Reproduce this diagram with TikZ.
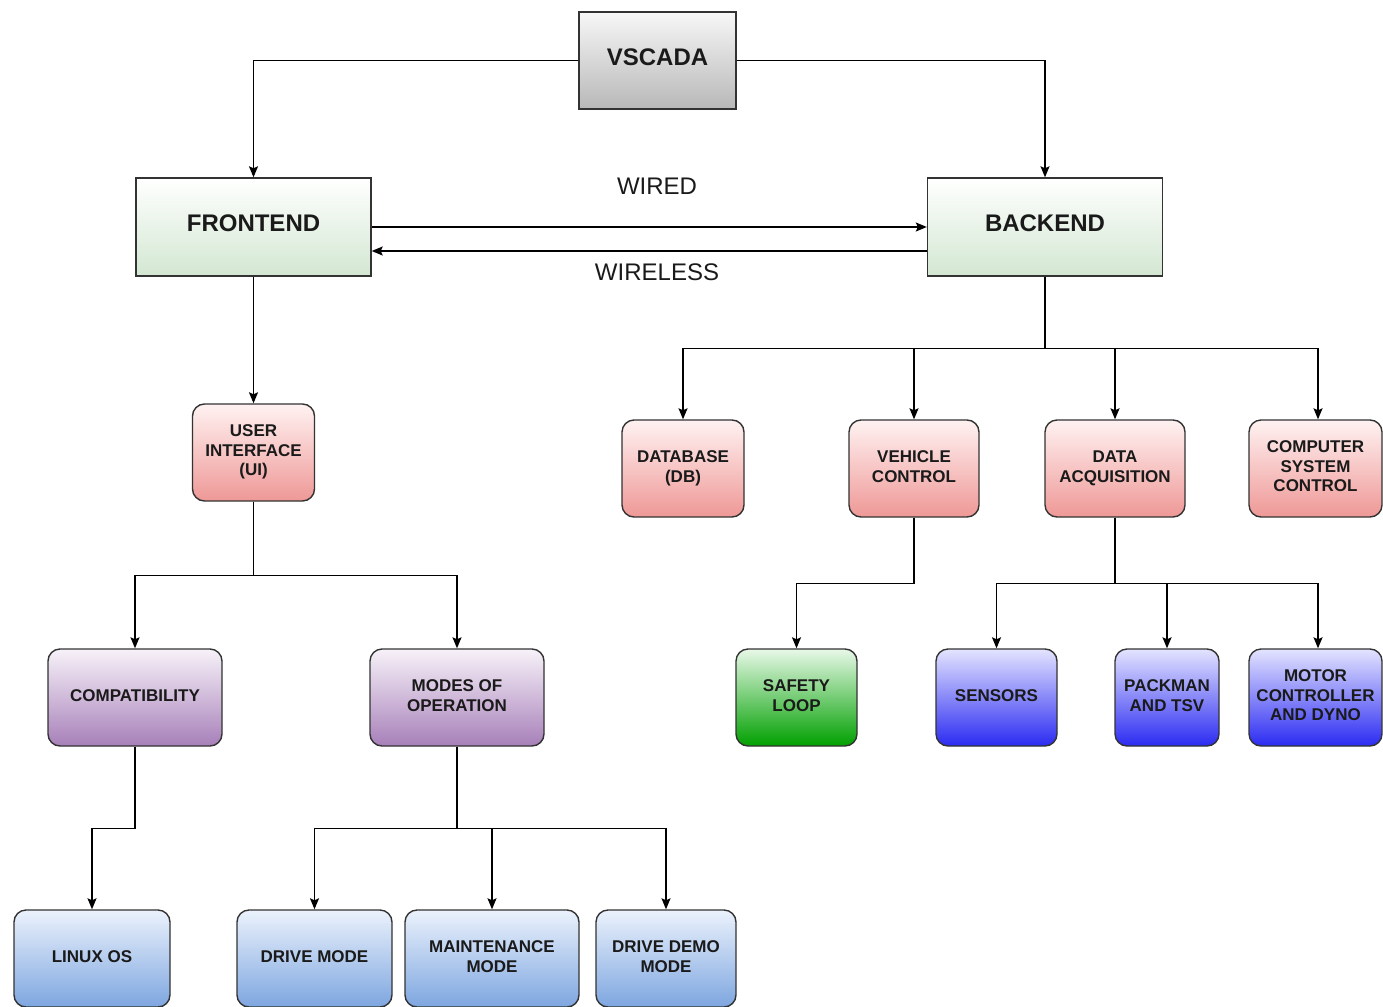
\documentclass[tikz,border=0pt]{standalone}
\usepackage{fontspec}
\setmainfont{Liberation Sans}
\usetikzlibrary{arrows.meta}

\definecolor{edgegray}{HTML}{333333}
\definecolor{txt}{HTML}{1A1A1A}
% gradient end colours (top / bottom)
\definecolor{grayT}{HTML}{F7F7F7}\definecolor{grayB}{HTML}{B8B8B8}
\definecolor{grnT}{HTML}{FFFFFF}\definecolor{grnB}{HTML}{D3E7D2}
\definecolor{redT}{HTML}{FFF2F2}\definecolor{redB}{HTML}{EE9896}
\definecolor{purT}{HTML}{F7F2F9}\definecolor{purB}{HTML}{A780B9}
\definecolor{safT}{HTML}{E8F8E8}\definecolor{safB}{HTML}{00A000}
\definecolor{bluT}{HTML}{E4E4FF}\definecolor{bluB}{HTML}{2B2BF2}
\definecolor{lbT}{HTML}{EBF2FC}\definecolor{lbB}{HTML}{7EA6E0}

\tikzset{
  box/.style={draw=edgegray, line width=1.4pt, inner sep=0pt, align=center,
    text=txt, minimum height=97pt},
  bigbox/.style={box, text depth=7pt, font=\fontsize{24}{28}\selectfont\bfseries},
  smallbox/.style={box, rounded corners=12pt, text depth=4pt,
    font=\fontsize{17}{19.5}\selectfont\bfseries},
  grayfill/.style={top color=grayT, bottom color=grayB},
  greenfill/.style={top color=grnT, bottom color=grnB},
  redfill/.style={top color=redT, bottom color=redB},
  purplefill/.style={top color=purT, bottom color=purB},
  safefill/.style={top color=safT, bottom color=safB},
  bluefill/.style={top color=bluT, bottom color=bluB},
  lbluefill/.style={top color=lbT, bottom color=lbB},
  conn/.style={draw=black, line width=1.4pt,
    -{Stealth[length=11pt, width=9pt, inset=2pt]}},
  linklabel/.style={font=\fontsize{24}{28}\selectfont, text=txt}
}

\begin{document}
\begin{tikzpicture}[x=1pt, y=-1pt]
\useasboundingbox (0,0) rectangle (1383,1006);
\clip (0,0) rectangle (1383,1006);

% top level
\node[bigbox, grayfill, minimum width=157pt] (vscada) at (657.5,60.5) {VSCADA};
\node[bigbox, greenfill, minimum width=235pt, minimum height=98pt] (frontend) at (253.5,227) {FRONTEND};
\node[bigbox, greenfill, minimum width=235pt, minimum height=98pt] (backend) at (1045,227) {BACKEND};

% second level
\node[smallbox, redfill, minimum width=122pt] (ui) at (253.5,452.5) {USER\\INTERFACE\\(UI)};
\node[smallbox, redfill, minimum width=122pt] (db) at (683,468.5) {DATABASE\\(DB)};
\node[smallbox, redfill, minimum width=130pt] (vc) at (914,468.5) {VEHICLE\\CONTROL};
\node[smallbox, redfill, minimum width=140pt] (da) at (1115,468.5) {DATA\\ACQUISITION};
\node[smallbox, redfill, minimum width=133pt] (csc) at (1315.5,468.5) {COMPUTER\\SYSTEM\\CONTROL};

% third level
\node[smallbox, purplefill, minimum width=174pt] (compat) at (135,697.5) {COMPATIBILITY};
\node[smallbox, purplefill, minimum width=174pt] (modes) at (457,697.5) {MODES OF\\OPERATION};
\node[smallbox, safefill, minimum width=121pt] (safety) at (796.5,697.5) {SAFETY\\LOOP};
\node[smallbox, bluefill, minimum width=121pt] (sensors) at (996.5,697.5) {SENSORS};
\node[smallbox, bluefill, minimum width=104pt] (packman) at (1167,697.5) {PACKMAN\\AND TSV};
\node[smallbox, bluefill, minimum width=133pt] (motor) at (1315.5,697.5) {MOTOR\\CONTROLLER\\AND DYNO};

% fourth level
\node[smallbox, lbluefill, minimum width=156pt] (linux) at (92,958.5) {LINUX OS};
\node[smallbox, lbluefill, minimum width=155pt] (drive) at (314.5,958.5) {DRIVE MODE};
\node[smallbox, lbluefill, minimum width=174pt] (maint) at (492,958.5) {MAINTENANCE\\MODE};
\node[smallbox, lbluefill, minimum width=140pt] (demo) at (666,958.5) {DRIVE DEMO\\MODE};

% connectors
\draw[conn] (vscada.west) -| (frontend.north);
\draw[conn] (vscada.east) -| (backend.north);
\draw[conn] (frontend.east) -- (backend.west);
\draw[conn] ([yshift=-24pt]backend.west) -- ([yshift=-24pt]frontend.east);
\node[linklabel] (wired) at (657,186) {WIRED};
\node[linklabel] (wireless) at (657,272) {WIRELESS};

\draw[conn] (frontend.south) -- (ui.north);
\foreach \t in {compat, modes}
  \draw[conn] (ui.south) -- ++(0,74) -| (\t.north);
\foreach \t in {db, vc, da}
  \draw[conn] (backend.south) -- ++(0,72) -| (\t.north);
\draw[conn] (backend.south) -- ++(0,72) -| ([xshift=2.5pt]csc.north);
\draw[conn] (compat.south) -- ++(0,82) -| (linux.north);
\foreach \t in {drive, maint, demo}
  \draw[conn] (modes.south) -- ++(0,82) -| (\t.north);
\draw[conn] (vc.south) -- ++(0,66) -| (safety.north);
\foreach \t in {sensors, packman}
  \draw[conn] (da.south) -- ++(0,66) -| (\t.north);
\draw[conn] (da.south) -- ++(0,66) -| ([xshift=2.5pt]motor.north);
\end{tikzpicture}
\end{document}
